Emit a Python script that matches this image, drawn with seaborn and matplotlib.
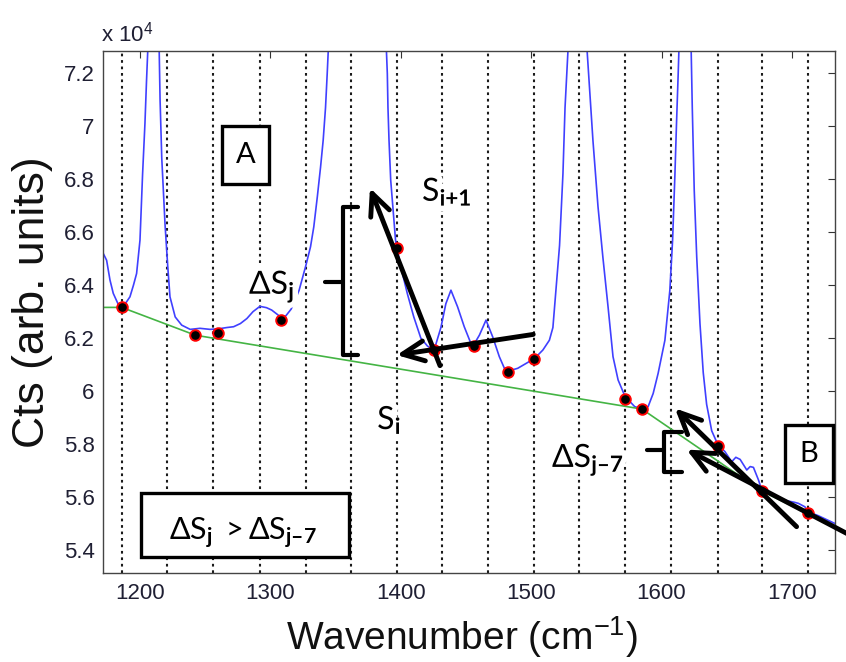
import matplotlib
matplotlib.use("Agg")
import matplotlib.pyplot as plt
import matplotlib.patheffects as pe
from matplotlib.patches import Rectangle
import pandas as pd
import seaborn as sns

# Spectrum segment (counts in units of 1e4)
wavenumber = [1171.8, 1174.4, 1177.0, 1179.5, 1183.0, 1186.4, 1189.7, 1192.3, 1195.0, 1197.4,
              1200.0, 1202.0, 1203.8, 1205.0, 1206.5, 1210.0, 1214.5, 1215.4, 1216.7, 1219.2,
              1221.3, 1223.0, 1227.0, 1232.0, 1238.5, 1246.0, 1253.8, 1260.0, 1266.7, 1271.8,
              1277.0, 1282.0, 1286.7, 1292.0, 1297.0, 1301.0, 1306.0, 1309.0, 1312.0, 1316.0,
              1322.0, 1327.0, 1330.8, 1333.3, 1336.0, 1338.5, 1340.5, 1342.3, 1343.6, 1345.0,
              1366.0, 1388.5, 1389.7, 1390.2, 1391.0, 1392.3, 1394.4, 1396.0, 1397.0, 1401.3,
              1405.0, 1410.0, 1415.4, 1420.5, 1425.6, 1430.8, 1434.6, 1438.5, 1443.6, 1448.7,
              1453.8, 1456.0, 1460.3, 1465.4, 1470.5, 1475.6, 1479.5, 1482.0, 1489.7, 1496.0,
              1502.6, 1509.0, 1514.0, 1516.7, 1519.0, 1521.8, 1524.4, 1526.0, 1528.2, 1529.0,
              1535.0, 1542.5, 1543.0, 1544.9, 1547.4, 1551.3, 1555.0, 1559.0, 1562.8, 1566.7,
              1572.0, 1579.5, 1584.6, 1589.7, 1593.6, 1597.4, 1602.6, 1606.4, 1608.5, 1610.3,
              1611.5, 1612.8, 1614.0, 1618.0, 1622.3, 1623.6, 1625.1, 1627.0, 1629.5, 1632.0,
              1634.6, 1638.5, 1643.0, 1648.7, 1653.8, 1657.0, 1660.3, 1665.4, 1668.0, 1670.5,
              1674.4, 1677.0, 1683.0, 1690.0, 1697.0, 1702.0, 1705.0, 1710.0, 1712.0, 1720.0,
              1733.0]
counts = [6.520, 6.494, 6.419, 6.369, 6.331, 6.318, 6.337, 6.356, 6.400, 6.444,
          6.570, 6.820, 7.010, 7.170, 7.350, 7.900, 7.350, 7.100, 6.880, 6.630,
          6.470, 6.356, 6.280, 6.249, 6.233, 6.237, 6.233, 6.235, 6.240, 6.243,
          6.255, 6.274, 6.300, 6.320, 6.315, 6.306, 6.287, 6.275, 6.285, 6.310,
          6.380, 6.470, 6.545, 6.620, 6.733, 6.846, 6.947, 7.070, 7.199, 7.350,
          8.200, 7.350, 7.199, 7.070, 6.947, 6.796, 6.670, 6.570, 6.540, 6.444,
          6.369, 6.280, 6.200, 6.170, 6.155, 6.240, 6.330, 6.381, 6.318, 6.243,
          6.180, 6.175, 6.211, 6.268, 6.205, 6.130, 6.086, 6.075, 6.086, 6.104,
          6.123, 6.155, 6.192, 6.240, 6.380, 6.550, 6.820, 7.070, 7.280, 7.400,
          8.100, 7.400, 7.280, 7.136, 6.947, 6.696, 6.507, 6.318, 6.130, 6.042,
          5.980, 5.941, 5.935, 5.941, 5.991, 6.067, 6.192, 6.381, 6.570, 6.820,
          7.010, 7.199, 7.400, 8.000, 7.400, 7.070, 6.758, 6.507, 6.255, 6.070,
          5.950, 5.850, 5.800, 5.771, 5.733, 5.750, 5.742, 5.702, 5.715, 5.712,
          5.664, 5.625, 5.610, 5.595, 5.585, 5.580, 5.576, 5.563, 5.545, 5.530,
          5.500]

# Piecewise baseline
base_x = [1171.6, 1186.0, 1242.5, 1585.0, 1677.0, 1712.0, 1733.0]
base_y = [6.316, 6.316, 6.211, 5.932, 5.622, 5.538, 5.490]

# Local-minimum anchor candidates
anchor_x = [1186.0, 1242.5, 1260.0, 1308.0, 1397.0, 1425.6, 1456.0,
            1482.0, 1502.0, 1572.0, 1585.0, 1643.0, 1677.0, 1712.0]
anchor_y = [6.316, 6.211, 6.218, 6.270, 6.542, 6.155, 6.171,
            6.073, 6.122, 5.971, 5.932, 5.794, 5.622, 5.538]

# Sampling grid positions
grid_x = [1186, 1221, 1256, 1292, 1327, 1362, 1397, 1432,
          1467, 1502, 1537, 1572, 1607, 1643, 1677, 1712]

x_ticks = [1200, 1300, 1400, 1500, 1600, 1700]
y_ticks = [5.4, 5.6, 5.8, 6.0, 6.2, 6.4, 6.6, 6.8, 7.0, 7.2]
y_tick_labels = ["5.4", "5.6", "5.8", "6", "6.2", "6.4", "6.6", "6.8", "7", "7.2"]

spec = pd.DataFrame({"wn": wavenumber, "cts": counts})
base = pd.DataFrame({"wn": base_x, "cts": base_y})
anchors = pd.DataFrame({"wn": anchor_x, "cts": anchor_y})

sns.set_theme(style="white")
plt.rcParams["font.family"] = ["Liberation Sans", "DejaVu Sans"]
plt.rcParams["mathtext.fontset"] = "custom"
plt.rcParams["mathtext.rm"] = "Lato"
plt.rcParams["mathtext.bf"] = "Lato:bold"
plt.rcParams["mathtext.it"] = "Lato:italic"

fig = plt.figure(figsize=(8.46, 6.62), dpi=100)
ax = fig.add_axes([0.1217, 0.1344, 0.8652, 0.7885])

for gx in grid_x:
    ax.axvline(gx, color="#1a1a1a", ls=(0, (1.3, 1.8)), lw=1.5, zorder=1)

sns.lineplot(data=spec, x="wn", y="cts", color="#4040ff", lw=1.2,
             estimator=None, sort=False, ax=ax, zorder=2)
sns.lineplot(data=base, x="wn", y="cts", color="#44b444", lw=1.2,
             estimator=None, sort=False, ax=ax, zorder=2)
sns.scatterplot(data=anchors, x="wn", y="cts", s=58, color="black",
                edgecolor="red", linewidth=1.4, ax=ax, zorder=4)

ax.set_xlim(1171.6, 1733.0)
ax.set_ylim(5.313, 7.284)
ax.set_xticks(x_ticks)
ax.set_xticklabels([str(t) for t in x_ticks])
ax.set_yticks(y_ticks)
ax.set_yticklabels(y_tick_labels)
ax.tick_params(direction="in", length=5, width=0.8, top=True, right=True,
               labelsize=16, colors="#333333", labelcolor="#1f1f33")
ax.tick_params(axis="x", pad=7)
ax.tick_params(axis="y", pad=6)
for sp in ax.spines.values():
    sp.set_color("#444444")
    sp.set_linewidth(1.0)

ax.set_xlabel("Wavenumber (cm$^{\\mathregular{-1}}$)", fontsize=28, labelpad=8, color="#111111")
ax.xaxis.label.set_x(0.49)
ax.set_ylabel("Cts (arb. units)", fontsize=32, color="#111111")
ax.yaxis.set_label_coords(-0.068, 0.519)
ax.text(-0.003, 1.017, "x 10$^{\\mathregular{4}}$", transform=ax.transAxes,
        fontsize=16, color="#1f1f33", ha="left", va="baseline")

halo = [pe.withStroke(linewidth=8, foreground="white")]
afont = dict(color="black", zorder=6, path_effects=halo)

ax.text(1283.6, 6.367, r"$\mathrm{\Delta S}_{\mathbf{j}}$", fontsize=23, ha="left", va="baseline", **afont)
ax.text(1416.3, 6.718, r"$\mathrm{S}_{\mathbf{i{+}1}}$", fontsize=23, ha="left", va="baseline", **afont)
ax.text(1381.9, 5.856, r"$\mathrm{S}_{\mathbf{i}}$", fontsize=23, ha="left", va="baseline", **afont)
ax.text(1516.0, 5.713, r"$\mathrm{\Delta S}_{\mathbf{j–7}}$", fontsize=23, ha="left", va="baseline", **afont)

# labelled boxes
boxes = [((1263.1, 6.781), 35.8, 0.220, "A", (1281.0, 6.891)),
         ((1694.6, 5.652), 36.6, 0.220, "B", (1712.9, 5.762)),
         ((1200.5, 5.374), 160.0, 0.240, None, None)]
for (x0, y0), w, h, label, pos in boxes:
    ax.add_patch(Rectangle((x0, y0), w, h, facecolor="white", edgecolor="black",
                           lw=2.4, zorder=6, clip_on=False))
    if label:
        ax.text(pos[0], pos[1], label, fontsize=21, ha="center", va="center",
                family=["Lato", "DejaVu Sans"], color="black", zorder=7)
ax.text(1222.5, 5.438,
        r"$\mathrm{\Delta S}_{\mathbf{j}}\ >\mathrm{\Delta S}_{\mathbf{j–7}}$",
        fontsize=22, ha="left", va="baseline", color="black", zorder=7)

# braces
ax.plot([1367.2, 1355.7, 1355.7, 1367.2], [6.695, 6.695, 6.136, 6.136],
        color="black", lw=3, solid_joinstyle="round", zorder=6)
ax.plot([1341.9, 1355.7], [6.412, 6.412], color="black", lw=3, zorder=6)
ax.plot([1615.5, 1602.1, 1602.1, 1615.5], [5.847, 5.847, 5.695, 5.695],
        color="black", lw=3, solid_joinstyle="round", zorder=6)
ax.plot([1588.6, 1602.1], [5.778, 5.778], color="black", lw=3, zorder=6)

# slope arrows
arrows = [((1376.4, 6.767), (1430.1, 6.096)),
          ((1396.9, 6.136), (1501.6, 6.214)),
          ((1610.3, 5.935), (1703.6, 5.488)),
          ((1619.2, 5.779), (1745.0, 5.455))]
for tip, tail in arrows:
    ax.annotate("", xy=tip, xytext=tail, xycoords="data", annotation_clip=False,
                arrowprops=dict(arrowstyle="->,head_length=1.3,head_width=0.6",
                                lw=3.5, color="black", shrinkA=0, shrinkB=0),
                zorder=7)

fig.savefig("out.png", dpi=100)
